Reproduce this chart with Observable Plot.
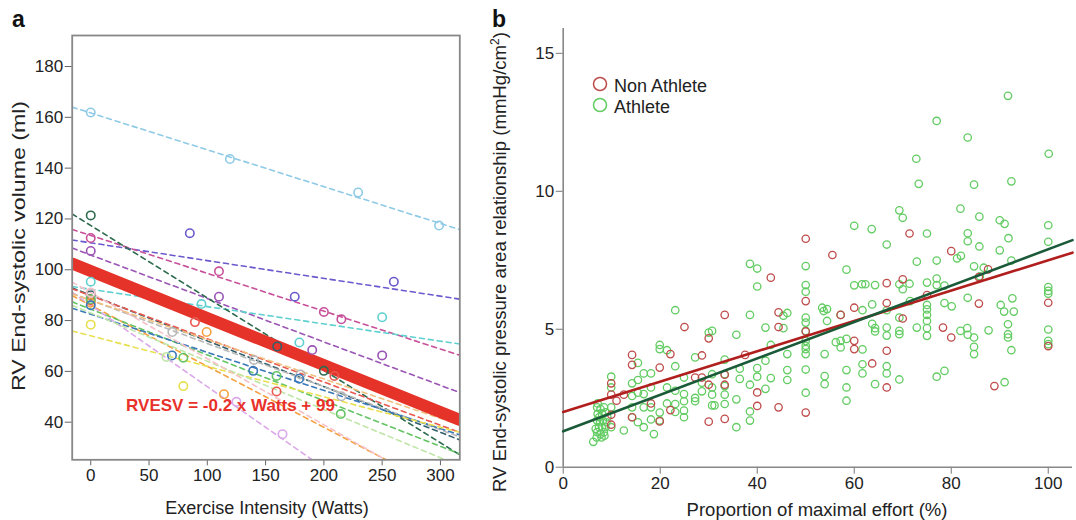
<!DOCTYPE html>
<html><head><meta charset="utf-8">
<script src="https://cdn.jsdelivr.net/npm/d3@7"></script>
<script src="https://cdn.jsdelivr.net/npm/@observablehq/plot@0.6"></script>
<style>
body{margin:0;background:#fff;font-family:"Liberation Sans",Arial,sans-serif;}
#wrap{position:relative;width:1076px;height:520px;overflow:hidden;}
#wrap>svg,#wrap>div{position:absolute;top:0;}
</style></head>
<body><div id="wrap"></div>
<script>
// ---------- Panel a data ----------
const aTicksX = [0, 50, 100, 150, 200, 250, 300];
const aTicksY = [40, 60, 80, 100, 120, 140, 160, 180];
const subjectIds = ["s1","s2","s3","s4","s5","s6","s7","s8","s9","s10","s11","s12","s13","s14","s15","s16","s17"];
const subjectColors = ["#8ecae6","#6a5acd","#c8509a","#9a55b5","#5fd0d0","#2e6b4f","#2f5f6a","#b8b8b8","#e85a50","#f4a040","#62c462","#3a78b8","#e8e050","#dba8e8","#bfe6a8","#f6c0c8","#f0c080"];
const subjectIntercepts = [161.7,110.6,113.5,105.8,92.3,117.4,90,88,89.8,86,84.5,82.5,74,86,83,91,88];
const subjectSlopes = [-0.145,-0.07,-0.149,-0.171,-0.068,-0.285,-0.18,-0.17,-0.17,-0.24,-0.18,-0.15,-0.12,-0.32,-0.19,-0.26,-0.155];
const subjectPoints = [
  [[0,161.9],[119.4,143.6],[229.4,130.4],[298.8,117.4]],
  [[85,114.4],[175,89.4],[260,95.3]],
  [[0,112.5],[110,99.4],[200,83.4],[215,80.5]],
  [[0,107.4],[110,89.4],[190,68.4],[250,66.3]],
  [[0,95.3],[95,86.5],[179,71.4],[250,81.3]],
  [[0,121.4],[200,60.2]],
  [[0,90],[160,69.8]],
  [[0,90.5],[70,75.5],[140,64.5],[180,58.8],[215,50.2]],
  [[0,88],[89.4,79.4],[159.4,52.1],[209,58.2]],
  [[0,87],[99.4,75.5],[114.3,51]],
  [[0,88.4],[79.4,65.4],[159.4,58.2],[214.5,43.2]],
  [[0,86],[69.7,66.3],[139.4,60.2],[178.8,57.1]],
  [[0,78.4],[79.4,54.2]],
  [[125,48],[164.5,35.3]],
  [[65,65.7]],
  [[0,91]],
  []
];
const overallIntercept = 99.5;
const overallSlope = -0.185;
const equationLabel = ["RVESV = -0.2 x Watts + 99"];
const equationPos = [[119.9, 46.6]];

// ---------- Panel b data ----------
const bTicksX = [0, 20, 40, 60, 80, 100];
const bTicksY = [0, 5, 10, 15];
const athletePoints = [
[91.7,13.46],[77,12.55],[83.4,11.95],[100.1,11.36],[72.8,11.18],[73.3,10.27],[84.7,10.24],[92.4,10.36],[69.3,9.31],[70,9.04],[81.9,9.37],[85.8,9.08],[90,8.95],[91,8.82],[100,8.77],[60,8.75],[63.6,8.63],[75,8.47],[83.4,8.48],[83.4,8.19],[91.8,8.30],[100,8.17],[66.7,8.07],[85.8,8.0],[90,7.86],
[92.4,7.49],[72.9,7.45],[77,7.49],[81.2,7.57],[82,7.66],[84.7,7.28],[86.7,7.23],[85.9,6.92],[100,6.53],[100,6.39],[100,6.29],[58.4,7.16],[50,7.29],[50,6.6],[50,6.36],[38.5,7.37],[40,7.2],[40,6.55],[60,6.59],[61.6,6.63],[62.3,6.63],[64.3,6.6],[69.3,6.63],[70,6.45],[71.4,6.65],[75,6.69],[77,6.84],[77,6.6],[78.6,6.58],[83.4,6.14],[80.1,5.83],[78.6,5.95],[71.5,6.02],[75,5.88],[75,5.72],[75,5.52],[75,5.3],[75,5.04],[75,4.76],[72.9,5.06],[69.3,4.82],[69.3,4.94],[69.3,5.42],[66.7,5.69],[66.7,5.06],[66.7,4.77],[63.7,5.9],[61.7,5.69],[63.7,5.2],[64.3,5.04],[64.3,4.92],[81.9,4.94],[83.3,5.04],[83.4,4.8],[84.7,4.7],[84.7,4.36],[84.7,4.1],[87.7,4.96],[90.2,5.88],[90.9,5.64],[91.7,5.18],[91.7,4.82],[91.7,4.7],[92.4,4.24],[92.6,6.12],[92.9,5.64],[100,4.99],[100,4.58],[100,4.46],[77,3.28],[78.6,3.49],[91,3.08],[69.3,3.18],[64.3,3.01],[66.7,3.66],[66.7,3.4],[61.7,3.73],[61.7,3.4],[61.7,4.27],[58.4,4.65],[58.4,3.52],[58.4,2.89],[58.4,2.41],[57.2,4.58],[57.2,4.34],[56.2,4.53],[57.2,5.52],[54.4,5.73],[53.7,5.66],[53.4,5.78],[54.4,5.3],[53.9,4.1],[53.9,3.3],[53.9,3.01],[50,5.42],[50,5.24],[50,4.94],[50,4.58],[50,4.4],[50,4.28],[50,4.1],[50,3.54],[50,2.7],[46.2,5.59],[45.4,5.49],[45.4,5.04],[46.2,4.1],[46.2,3.52],[46.2,3.16],[42.8,4.43],[42.8,3.23],[41.7,5.06],[41.7,3.86],[41.7,2.84],[40,3.59],[40,3.28],[38.5,5.52],[38.5,2.99],[38.5,2.02],[38.5,1.69],[35.7,4.8],[36.4,3.57],[36.4,3.2],[35.7,2.46],[35.7,1.45],[33.3,3.9],[33.3,3.37],[33.3,2.94],[33.3,2.63],[33.3,2.29],[30.7,4.94],[30,4.88],[30.7,3.37],[30.7,2.89],[30.7,2.63],[30.7,2.24],[31.2,2.24],[28.6,3.06],[28.6,2.75],[27.2,3.98],[27.2,2.51],[27.2,2.39],[24.9,3.25],[24.9,2.65],[24.9,2.39],[24.9,2.05],[24.9,1.81],[23.1,5.69],[23.1,3.66],[23.1,2.77],[23.1,2.29],[23.1,2.0],[21.4,4.24],[21.4,2.89],[21.4,2.31],[19.9,4.43],[19.9,4.28],[19.9,1.98],[19.9,1.69],[18.1,3.4],[18.1,2.89],[18.1,2.17],[18.1,1.73],[16.6,3.4],[16.6,2.65],[16.6,2.17],[16.6,1.45],[18.7,1.2],[15.4,3.78],[15.4,3.16],[15.4,2.7],[15.4,1.63],[14.2,3.04],[14.2,2.58],[14.2,2.17],[14.2,1.81],[12.5,1.33],[9.9,3.28],[9.9,2.89],[9.9,2.17],[9.9,1.45],[6.2,0.92],
[7.0,2.17],[7.7,2.11],[8.4,2.17],[7.1,1.93],[8.0,1.93],[8.7,1.99],[7.0,1.69],[7.6,1.63],[8.2,1.69],[8.9,1.63],[7.4,1.45],[8.0,1.45],[8.7,1.45],[7.0,1.27],[7.7,1.2],[8.4,1.27],[7.4,1.81],[9.1,1.81],[6.7,1.39],[7.9,1.08],[6.9,1.08],[8.5,1.14],[7.1,2.31]
];
const nonAthletePoints = [
[80,7.83],[87.6,7.17],[85.7,6.89],[100,5.96],[85.7,5.93],[70,6.81],[66.7,6.67],[66.7,5.95],[70,5.39],[60,5.78],[60,4.58],[60,4.28],[57.2,5.52],[55.5,7.69],[50,8.28],[50,6.02],[50,4.92],[50,1.98],[42.8,6.87],[44.4,5.61],[44.4,5.08],[44.4,2.17],[40,2.71],[40,2.22],[37.5,4.07],[33.3,5.52],[33.3,3.35],[33.3,2.99],[33.3,1.75],[30,4.67],[30,2.99],[30,1.65],[28.6,4.05],[28.6,3.25],[27.2,3.25],[25,5.08],[22.1,4.1],[22.1,2.07],[19.9,3.61],[19.9,1.66],[18.1,2.31],[14.2,4.07],[14.2,3.71],[14.2,1.81],[12.5,2.63],[11,2.41],[9.9,3.04],[9.9,2.63],[9.9,1.9],[9.9,1.54],[66.7,4.22],[66.7,2.89],[63.7,3.76],[78.3,5.06],[80,4.7],[88.9,2.94],[100,4.39],[75,6.24],[71.4,8.47]
];
const groupNames = ["Non Athlete", "Athlete"];
const groupIntercepts = [2.0, 1.3];
const groupSlopes = [0.055, 0.066];

// ---------- Styles ----------
const FONT = '"Liberation Sans", Arial, Helvetica, sans-serif';
const aX = [-15.9, 316.6], aY = [25.2, 192.2];
const bX = [0, 105], bY = [0, 15.9];
const colNon = "#bf4b4b", colAth = "#62cc62", lineNon = "#b01e1e", lineAth = "#1a5a38";

// ---------- Build panel a ----------
const aLines = subjectIds.flatMap((id, i) => aX.map(x => ({id, color: subjectColors[i], x, y: subjectIntercepts[i] + subjectSlopes[i] * x})));
const aDots = subjectIds.flatMap((id, i) => subjectPoints[i].map(([x, y]) => ({id, color: subjectColors[i], x, y})));
const aOverall = aX.map(x => ({x, y: overallIntercept + overallSlope * x}));

const plotA = Plot.plot({
  width: 480, height: 520,
  marginLeft: 71.7, marginRight: 20.7, marginTop: 35, marginBottom: 60.7,
  style: {fontFamily: FONT, fontSize: "17px", color: "#222", background: "transparent"},
  x: {domain: aX},
  y: {domain: aY},
  color: {type: "identity"},
  marks: [
    Plot.axisX({ticks: aTicksX, tickSize: 6, tickPadding: 3, label: null, stroke: "#666", fill: "#222", fontSize: 17}),
    Plot.axisY({ticks: aTicksY, tickSize: 7, tickPadding: 2, label: null, stroke: "#666", fill: "#222", fontSize: 17}),
    Plot.line(aLines, {x: "x", y: "y", z: "id", stroke: "color", strokeWidth: 1.6, strokeDasharray: "5,4", clip: true}),
    Plot.line(aOverall, {x: "x", y: "y", stroke: "#e5332a", strokeWidth: 12, clip: true}),
    Plot.dot(aDots, {x: "x", y: "y", stroke: "color", r: 4.2, strokeWidth: 1.6}),
    Plot.text(equationLabel, {x: () => equationPos[0][0], y: () => equationPos[0][1], text: d => d, fill: "#e8312a", fontWeight: "bold", fontSize: 17}),
    Plot.frame({stroke: "#888", strokeWidth: 1.8})
  ]
});
plotA.style.left = "0px";

// ---------- Build panel b ----------
const bNon = nonAthletePoints.map(([x, y]) => ({x, y}));
const bAth = athletePoints.map(([x, y]) => ({x, y}));
const bReg = groupNames.flatMap((g, i) => bX.map(x => ({g, x, y: groupIntercepts[i] + groupSlopes[i] * x})));

const plotB = Plot.plot({
  width: 596, height: 520,
  marginLeft: 82.7, marginRight: 4, marginTop: 28, marginBottom: 53.3,
  style: {fontFamily: FONT, fontSize: "17px", color: "#222", background: "transparent"},
  x: {domain: bX},
  y: {domain: bY},
  marks: [
    Plot.axisX({ticks: bTicksX, tickSize: 7, tickPadding: 3, label: null, stroke: "#777", fill: "#222", fontSize: 17}),
    Plot.axisY({ticks: bTicksY, tickSize: 7, tickPadding: 2, label: null, stroke: "#777", fill: "#222", fontSize: 17}),
    Plot.ruleX([bX[0]], {stroke: "#888", strokeWidth: 1.6}),
    Plot.ruleY([bY[0]], {stroke: "#888", strokeWidth: 1.6}),
    Plot.dot(bAth, {x: "x", y: "y", stroke: colAth, r: 3.7, strokeWidth: 1.3}),
    Plot.dot(bNon, {x: "x", y: "y", stroke: colNon, r: 3.7, strokeWidth: 1.3}),
    Plot.line(bReg.filter(d => d.g === groupNames[0]), {x: "x", y: "y", stroke: lineNon, strokeWidth: 2.6}),
    Plot.line(bReg.filter(d => d.g === groupNames[1]), {x: "x", y: "y", stroke: lineAth, strokeWidth: 2.6})
  ]
});
plotB.style.left = "480px";

const wrap = document.getElementById("wrap");
wrap.appendChild(plotA);
wrap.appendChild(plotB);

// ---------- Overlay text (panel letters, axis titles, legend) ----------
const ns = "http://www.w3.org/2000/svg";
const ov = document.createElementNS(ns, "svg");
ov.setAttribute("width", 1076); ov.setAttribute("height", 520);
ov.style.left = "0px"; ov.style.pointerEvents = "none";
ov.setAttribute("font-family", FONT);
ov.innerHTML = `
  <text x="12" y="27" font-size="23" font-weight="bold" fill="#111">a</text>
  <text x="492" y="27" font-size="23" font-weight="bold" fill="#111">b</text>
  <text transform="translate(25,246) rotate(-90)" text-anchor="middle" font-size="19" textLength="290" lengthAdjust="spacingAndGlyphs" fill="#222">RV End-systolic volume (ml)</text>
  <text x="267" y="514" text-anchor="middle" font-size="18" fill="#222">Exercise Intensity (Watts)</text>
  <text transform="translate(506,262) rotate(-90)" text-anchor="middle" font-size="18.6" fill="#222">RV End-systolic pressure area relationship (mmHg/cm<tspan dy="-7" font-size="12">2</tspan><tspan dy="7">)</tspan></text>
  <text x="817" y="516" text-anchor="middle" font-size="18.5" fill="#222">Proportion of maximal effort (%)</text>
  <circle cx="600" cy="84" r="6.5" fill="none" stroke="${colNon}" stroke-width="1.5"/>
  <text x="614" y="92" font-size="18" fill="#222">${groupNames[0]}</text>
  <circle cx="600" cy="105" r="6.5" fill="none" stroke="${colAth}" stroke-width="1.5"/>
  <text x="614" y="113" font-size="18" fill="#222">${groupNames[1]}</text>
`;
wrap.appendChild(ov);
</script>
</body></html>
